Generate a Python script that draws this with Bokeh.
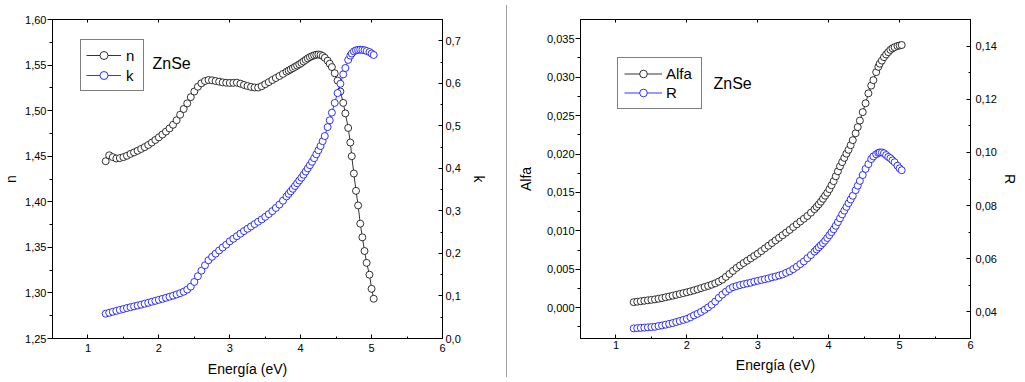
from bokeh.plotting import figure
from bokeh.models import (Range1d, LinearAxis, FixedTicker, CustomJSTickFormatter,
                          Legend, LegendItem, Label, Div)
from bokeh.layouts import row
from bokeh.embed import file_html
from bokeh.resources import INLINE

# ---------------- data ----------------
energy = [
    1.25, 1.30, 1.35, 1.40, 1.45, 1.50, 1.55, 1.60, 1.65, 1.70,
    1.75, 1.80, 1.85, 1.90, 1.95, 2.00, 2.05, 2.10, 2.15, 2.20,
    2.25, 2.30, 2.35, 2.40, 2.45, 2.50, 2.55, 2.60, 2.65, 2.70,
    2.75, 2.80, 2.85, 2.90, 2.95, 3.00, 3.05, 3.10, 3.15, 3.20,
    3.25, 3.30, 3.35, 3.40, 3.45, 3.50, 3.55, 3.60, 3.65, 3.70,
    3.75, 3.80, 3.83, 3.86, 3.89, 3.92, 3.95, 3.98, 4.01, 4.04,
    4.07, 4.10, 4.13, 4.16, 4.19, 4.22, 4.25, 4.28, 4.31, 4.34,
    4.38, 4.41, 4.44, 4.48, 4.52, 4.56, 4.60, 4.63, 4.67, 4.70,
    4.72, 4.75, 4.78, 4.81, 4.84, 4.87, 4.90, 4.93, 4.97, 5.00,
    5.03,
]

n_index = [
    1.4445, 1.4510, 1.4490, 1.4475, 1.4480, 1.4490, 1.4505, 1.4525, 1.4542, 1.4560,
    1.4580, 1.4600, 1.4623, 1.4650, 1.4678, 1.4707, 1.4738, 1.4770, 1.4805, 1.4845,
    1.4895, 1.4955, 1.5018, 1.5080, 1.5148, 1.5210, 1.5262, 1.5300, 1.5325, 1.5336,
    1.5333, 1.5325, 1.5318, 1.5310, 1.5306, 1.5304, 1.5305, 1.5307, 1.5296, 1.5282,
    1.5270, 1.5260, 1.5254, 1.5253, 1.5268, 1.5290, 1.5313, 1.5336, 1.5358, 1.5380,
    1.5403, 1.5427, 1.5440, 1.5453, 1.5466, 1.5480, 1.5494, 1.5508, 1.5523, 1.5540,
    1.5557, 1.5573, 1.5587, 1.5598, 1.5607, 1.5613, 1.5616, 1.5611, 1.5600, 1.5580,
    1.5548, 1.5515, 1.5478, 1.5410, 1.5330, 1.5210, 1.5085, 1.4970, 1.4810, 1.4650,
    1.4500, 1.4310, 1.4120, 1.3960, 1.3760, 1.3610, 1.3460, 1.3330, 1.3200, 1.3045,
    1.2936,
]

k_ext = [
    0.0583, 0.0605, 0.0628, 0.0650, 0.0672, 0.0694, 0.0716, 0.0736, 0.0756, 0.0776,
    0.0796, 0.0818, 0.0840, 0.0863, 0.0886, 0.0910, 0.0933, 0.0957, 0.0982, 0.1007,
    0.1035, 0.1065, 0.1100, 0.1150, 0.1220, 0.1330, 0.1465, 0.1595, 0.1720, 0.1840,
    0.1920, 0.1995, 0.2070, 0.2140, 0.2205, 0.2285, 0.2345, 0.2405, 0.2465, 0.2525,
    0.2580, 0.2635, 0.2690, 0.2745, 0.2800, 0.2860, 0.2925, 0.2995, 0.3070, 0.3150,
    0.3240, 0.3340, 0.3400, 0.3460, 0.3520, 0.3585, 0.3650, 0.3715, 0.3780, 0.3850,
    0.3925, 0.4000, 0.4075, 0.4155, 0.4240, 0.4330, 0.4425, 0.4525, 0.4640, 0.4760,
    0.4970, 0.5130, 0.5310, 0.5540, 0.5770, 0.5990, 0.6210, 0.6360, 0.6550, 0.6650,
    0.6700, 0.6750, 0.6775, 0.6785, 0.6790, 0.6785, 0.6778, 0.6760, 0.6735, 0.6700,
    0.6666,
]

alfa = [
    0.00073, 0.00079, 0.00085, 0.00091, 0.00097, 0.00103, 0.00109, 0.00117, 0.00126, 0.00136,
    0.00146, 0.00157, 0.00168, 0.00179, 0.00190, 0.00201, 0.00213, 0.00226, 0.00240, 0.00255,
    0.00270, 0.00284, 0.00300, 0.00318, 0.00340, 0.00366, 0.00402, 0.00440, 0.00479, 0.00518,
    0.00550, 0.00582, 0.00612, 0.00642, 0.00673, 0.00703, 0.00737, 0.00772, 0.00807, 0.00842,
    0.00876, 0.00910, 0.00944, 0.00978, 0.01013, 0.01050, 0.01086, 0.01122, 0.01158, 0.01194,
    0.01237, 0.01282, 0.01313, 0.01345, 0.01380, 0.01418, 0.01458, 0.01496, 0.01543, 0.01594,
    0.01647, 0.01710, 0.01775, 0.01840, 0.01895, 0.01950, 0.02005, 0.02055, 0.02115, 0.02180,
    0.02270, 0.02350, 0.02435, 0.02545, 0.02660, 0.02789, 0.02890, 0.02961, 0.03065, 0.03134,
    0.03175, 0.03215, 0.03260, 0.03295, 0.03325, 0.03355, 0.03375, 0.03390, 0.03405, 0.03412,
    0.03418,
]

refl = [
    0.0338, 0.0339, 0.0340, 0.0341, 0.0342, 0.0343, 0.0344, 0.0347, 0.0349, 0.0352,
    0.0355, 0.0358, 0.0362, 0.0366, 0.0370, 0.0374, 0.0380, 0.0387, 0.0393, 0.0400,
    0.0408, 0.0417, 0.0427, 0.0439, 0.0453, 0.0465, 0.0476, 0.0486, 0.0493, 0.0497,
    0.0501, 0.0504, 0.0507, 0.0510, 0.0514, 0.0517, 0.0520, 0.0523, 0.0526, 0.0530,
    0.0533, 0.0537, 0.0541, 0.0547, 0.0553, 0.0561, 0.0570, 0.0580, 0.0590, 0.0602,
    0.0614, 0.0627, 0.0635, 0.0643, 0.0651, 0.0659, 0.0668, 0.0678, 0.0689, 0.0700,
    0.0711, 0.0724, 0.0738, 0.0752, 0.0767, 0.0781, 0.0795, 0.0809, 0.0823, 0.0837,
    0.0858, 0.0875, 0.0893, 0.0915, 0.0938, 0.0956, 0.0975, 0.0985, 0.0993, 0.0998,
    0.1000, 0.1000, 0.0997, 0.0990, 0.0983, 0.0978, 0.0970, 0.0963, 0.0950, 0.0940,
    0.0933,
]

# ticks and tick labels
x_ticks = [1, 2, 3, 4, 5, 6]
x_labels = ["1", "2", "3", "4", "5", "6"]
n_ticks = [1.25, 1.30, 1.35, 1.40, 1.45, 1.50, 1.55, 1.60]
n_labels = ["1,25", "1,30", "1,35", "1,40", "1,45", "1,50", "1,55", "1,60"]
k_ticks = [0.0, 0.1, 0.2, 0.3, 0.4, 0.5, 0.6, 0.7]
k_labels = ["0,0", "0,1", "0,2", "0,3", "0,4", "0,5", "0,6", "0,7"]
alfa_ticks = [0.0, 0.005, 0.010, 0.015, 0.020, 0.025, 0.030, 0.035]
alfa_labels = ["0,000", "0,005", "0,010", "0,015", "0,020", "0,025", "0,030", "0,035"]
r_ticks = [0.04, 0.06, 0.08, 0.10, 0.12, 0.14]
r_labels = ["0,04", "0,06", "0,08", "0,10", "0,12", "0,14"]

assert len(energy) == len(n_index) == len(k_ext) == len(alfa) == len(refl)

FONT = "Liberation Sans"


def fmt(tvals, tlabels):
    return CustomJSTickFormatter(args=dict(tvals=tvals, tlabels=tlabels), code="""
        let best = 0, d = Infinity;
        for (let j = 0; j < tvals.length; j++) {
            const e = Math.abs(tvals[j] - tick);
            if (e < d) { d = e; best = j; }
        }
        return tlabels[best];
    """)


def mids(t):
    return [(a + b) / 2 for a, b in zip(t[:-1], t[1:])]


def style_axis(ax, t_in, t_out, m_in, m_out, standoff, label_standoff):
    ax.axis_line_color = "black"
    ax.axis_line_width = 1
    ax.major_tick_line_color = "black"
    ax.minor_tick_line_color = "black"
    ax.major_tick_in = t_in
    ax.major_tick_out = t_out
    ax.minor_tick_in = m_in
    ax.minor_tick_out = m_out
    ax.major_label_standoff = standoff
    ax.major_label_text_font = FONT
    ax.major_label_text_font_size = "11px"
    ax.major_label_text_color = "black"
    ax.axis_label_text_font = FONT
    ax.axis_label_text_font_size = "14px"
    ax.axis_label_text_font_style = "normal"
    ax.axis_label_text_color = "black"
    ax.axis_label_standoff = label_standoff


def make_panel(width, border, y_rng, y2_name, y2_rng, y_t, y_l, y_minor, y2_t, y2_l, y2_minor,
               y_label, y2_label, y_vals, y2_vals, names, leg_loc, leg_dims, znse_pos, stand):
    p = figure(width=width, height=382, x_range=Range1d(0.5, 6), y_range=Range1d(*y_rng),
               output_backend="svg", toolbar_location=None, title=None,
               min_border_left=border[0], min_border_right=border[1],
               min_border_top=border[2], min_border_bottom=border[3],
               x_axis_label="Energía (eV)", y_axis_label=y_label)
    p.extra_y_ranges = {y2_name: Range1d(*y2_rng)}
    p.grid.visible = False
    p.outline_line_color = "black"
    p.background_fill_color = "white"
    p.border_fill_color = "white"

    xa = p.xaxis[0]
    xa.ticker = FixedTicker(ticks=x_ticks, minor_ticks=mids(x_ticks))
    xa.formatter = fmt(x_ticks, x_labels)
    style_axis(xa, 4, 0, 2, 0, stand["x"], stand["xl"])

    ya = p.yaxis[0]
    ya.ticker = FixedTicker(ticks=y_t, minor_ticks=y_minor)
    ya.formatter = fmt(y_t, y_l)
    style_axis(ya, 0, 5, 0, 3, 1, stand["yl"])

    ra = LinearAxis(y_range_name=y2_name, axis_label=y2_label,
                    ticker=FixedTicker(ticks=y2_t, minor_ticks=y2_minor),
                    formatter=fmt(y2_t, y2_l))
    style_axis(ra, 4, 0, 2, 0, stand["r"], stand["rl"])
    p.add_layout(ra, "right")

    ta = LinearAxis(ticker=FixedTicker(ticks=x_ticks), formatter=fmt(x_ticks, ["" for _ in x_ticks]))
    style_axis(ta, 3, 0, 0, 0, 0, 0)
    ta.major_label_text_font_size = "0px"
    p.add_layout(ta, "above")

    l1 = p.line(energy, y_vals, line_color="black", line_width=0.8)
    s1 = p.scatter(energy, y_vals, marker="circle", size=7, line_color="black",
                   line_width=0.8, fill_color="white")
    l2 = p.line(energy, y2_vals, line_color="#0000ff", line_width=0.8, y_range_name=y2_name)
    s2 = p.scatter(energy, y2_vals, marker="circle", size=7, line_color="#0000ff",
                   line_width=0.8, fill_color="white", y_range_name=y2_name)

    gw, gh, lw, pad, ls = leg_dims
    leg = Legend(items=[LegendItem(label=names[0], renderers=[l1, s1]),
                        LegendItem(label=names[1], renderers=[l2, s2])],
                 location=leg_loc, orientation="vertical",
                 border_line_color="black", border_line_width=1,
                 background_fill_color="white", background_fill_alpha=1.0,
                 label_text_font=FONT, label_text_font_size="15px", label_text_color="black",
                 glyph_width=gw, glyph_height=gh, label_height=gh, label_width=lw,
                 padding=pad, spacing=0, margin=0, label_standoff=ls)
    p.add_layout(leg)

    p.add_layout(Label(x=znse_pos[0], y=znse_pos[1], x_units="screen", y_units="screen",
                       text="ZnSe", text_font=FONT, text_font_size="16px",
                       text_color="black", text_baseline="alphabetic"))
    return p


p1 = make_panel(506, (52, 64, 17, 44), (1.25, 1.60), "k", (0, 0.75),
                n_ticks, n_labels, mids(n_ticks), k_ticks, k_labels, mids(k_ticks),
                "n", "k", n_index, k_ext, ("n", "k"),
                (28, 247), (35, 20, 12, 5, 5), (100, 275),
                {"x": 5, "xl": 6, "yl": 3, "r": 3, "rl": 7})

p2 = make_panel(518, (73, 55, 19, 42), (-0.004, 0.0375), "R", (0.03, 0.15),
                alfa_ticks, alfa_labels, [-0.0025] + mids(alfa_ticks),
                r_ticks, r_labels, mids(r_ticks),
                "Alfa", "R", alfa, refl, ("Alfa", "R"),
                (37, 229), (38, 19, 29, 6, 4), (133, 255),
                {"x": 2, "xl": 5, "yl": 10, "r": 5, "rl": 2})

sep = Div(text="", width=1, height=372, margin=(5, 0, 0, 0),
          styles={"background-color": "#a0a0a0"})

layout = row(p1, sep, p2)

open("out.html", "w").write(file_html(layout, INLINE))
